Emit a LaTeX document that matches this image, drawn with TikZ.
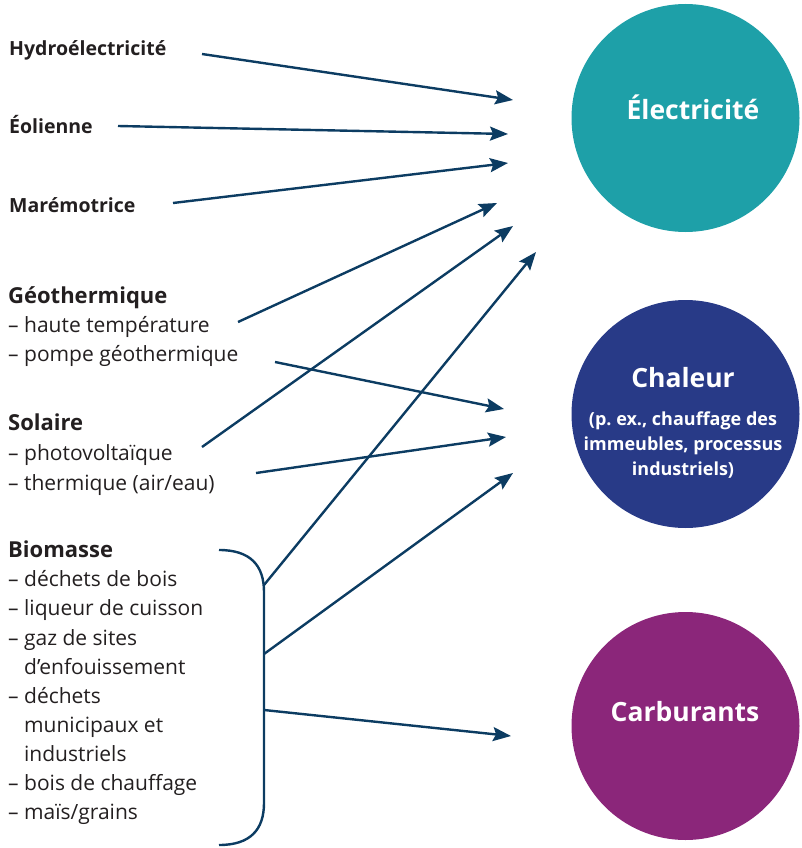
\documentclass[tikz,border=0pt]{standalone}
\usepackage{fontspec}
\setmainfont{Open Sans}
\usetikzlibrary{arrows.meta}
\definecolor{arrowc}{RGB}{12,60,98}
\definecolor{txt}{RGB}{35,31,32}
\definecolor{elecc}{RGB}{30,160,168}
\definecolor{chalc}{RGB}{40,58,135}
\definecolor{carbc}{RGB}{139,38,122}
\tikzset{
  lbl/.style={anchor=base west, inner sep=0pt, text=txt},
  toplbl/.style={lbl, font=\fontsize{19.5}{22}\selectfont\bfseries},
  head/.style={lbl, font=\fontsize{22}{25}\selectfont\bfseries},
  item/.style={lbl, font=\fontsize{21}{29}\selectfont},
  flow/.style={draw=arrowc, line width=2.4pt, -{Stealth[length=18pt,width=14pt,inset=3pt]}},
  brace/.style={draw=arrowc, line width=2.4pt},
  bubble/.style={circle, minimum size=228pt, inner sep=0pt},
  bubtxt/.style={text=white, font=\fontsize{26.5}{30}\selectfont\bfseries, inner sep=0pt},
  subtxt/.style={text=white, font=\fontsize{18}{25}\selectfont\bfseries, align=center, inner sep=0pt}
}
\begin{document}
\begin{tikzpicture}[x=1pt,y=-1pt]
\useasboundingbox (0,0) rectangle (801,848);
% circles
\node[bubble, fill=elecc] (elec) at (685.5,118) {};
\node[bubtxt] (electxt) at (693,107) {Électricité};
\node[bubble, fill=chalc] (chal) at (685.5,414) {};
\node[bubtxt] (chaltxt) at (683,378) {Chaleur};
\node[subtxt] (chalsub) at (683,445) {(p.\ ex., chauffage des\\immeubles, processus\\industriels)};
\node[bubble, fill=carbc] (carb) at (685.5,726) {};
\node[bubtxt] (carbtxt) at (685,712) {Carburants};
% labels
\node[toplbl] (hydro) at (9,56) {Hydroélectricité};
\node[toplbl] (eol) at (9,133) {Éolienne};
\node[toplbl] (mare) at (9,212) {Marémotrice};
\node[head] (geo) at (8,303) {Géothermique};
\node[item] (geoa) at (8,332) {– haute température};
\node[item] (geob) at (8,361) {– pompe géothermique};
\node[head] (sol) at (8,430) {Solaire};
\node[item] (sola) at (8,460) {– photovoltaïque};
\node[item] (solb) at (8,490) {– thermique (air/eau)};
\node[head] (bio) at (8,557) {Biomasse};
\node[item] (bioa) at (8,586) {– déchets de bois};
\node[item] (biob) at (8,615) {– liqueur de cuisson};
\node[item] (bioc) at (8,645) {– gaz de sites};
\node[item] (biod) at (8,674) {\phantom{– }d’enfouissement};
\node[item] (bioe) at (8,703) {– déchets};
\node[item] (biof) at (8,732) {\phantom{– }municipaux et};
\node[item] (biog) at (8,761) {\phantom{– }industriels};
\node[item] (bioh) at (8,790) {– bois de chauffage};
\node[item] (bioi) at (8,819) {– maïs/grains};
% brace
\coordinate (bt) at (219,550);
\coordinate (bb) at (219,845);
\coordinate (b1) at (264,585);
\coordinate (b2) at (264,654);
\coordinate (b3) at (264,710);
\draw[brace] (bt) .. controls (250,550) and (264,565) .. (264,592) -- (264,803) .. controls (264,830) and (250,845) .. (bb);
% arrow ends
\coordinate (s1) at (202,54);  \coordinate (e1) at (513,100);
\coordinate (s2) at (118,126); \coordinate (e2) at (508,134);
\coordinate (s3) at (173,203); \coordinate (e3) at (508,163);
\coordinate (s4) at (238,322); \coordinate (e4) at (497,203);
\coordinate (s5) at (275,362); \coordinate (e5) at (504,409);
\coordinate (s6) at (202,447); \coordinate (e6) at (513,226);
\coordinate (s7) at (256,473); \coordinate (e7) at (506,437);
\coordinate (e8) at (536,252);
\coordinate (e9) at (513,473);
\coordinate (e10) at (511,736);
\draw[flow] (s1) -- (e1);
\draw[flow] (s2) -- (e2);
\draw[flow] (s3) -- (e3);
\draw[flow] (s4) -- (e4);
\draw[flow] (s5) -- (e5);
\draw[flow] (s6) -- (e6);
\draw[flow] (s7) -- (e7);
\draw[flow] (b1) -- (e8);
\draw[flow] (b2) -- (e9);
\draw[flow] (b3) -- (e10);
\end{tikzpicture}
\end{document}
